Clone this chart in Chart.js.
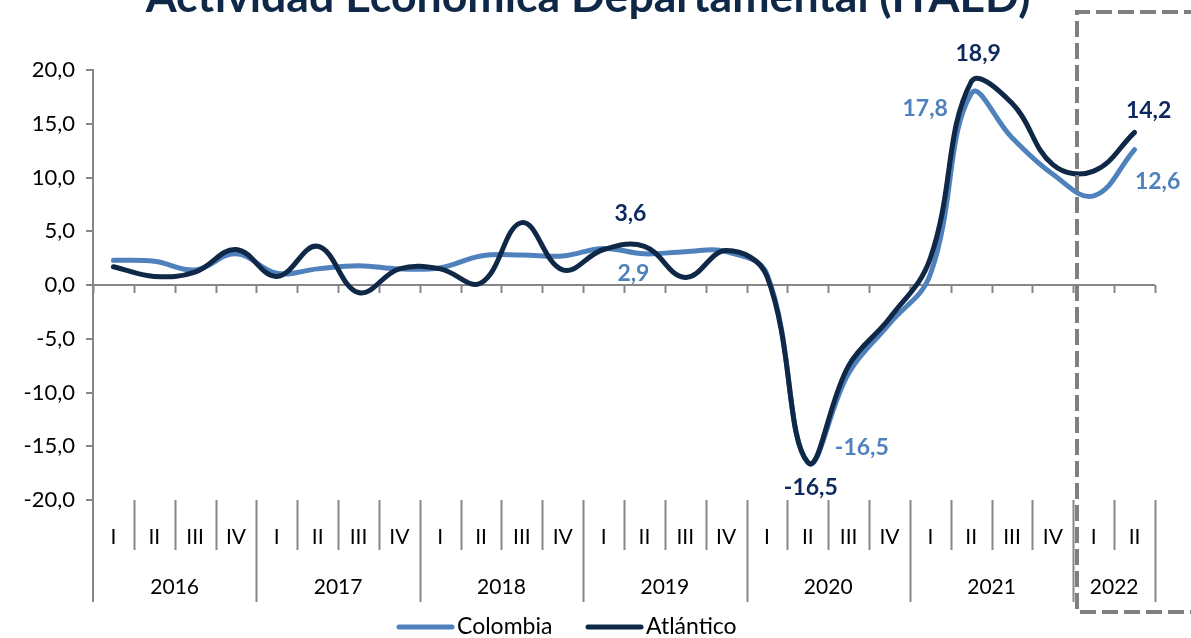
<!DOCTYPE html>
<html>
<head>
<meta charset="utf-8">
<script src="https://cdn.jsdelivr.net/npm/chart.js@4.4.1/dist/chart.umd.min.js"></script>
<style>
  html, body { margin: 0; padding: 0; background: #fff; }
  #wrap { width: 1191px; height: 638px; }
</style>
</head>
<body>
<div id="wrap"><canvas id="itaed" width="1191" height="638"></canvas></div>
<script>
// trimestres y años
const quarters = ['I','II','III','IV','I','II','III','IV','I','II','III','IV','I','II','III','IV',
                  'I','II','III','IV','I','II','III','IV','I','II'];
const years = ['2016','2017','2018','2019','2020','2021','2022'];
const quartersPerYear = [4, 4, 4, 4, 4, 4, 2];

// variación anual (%)
const colombia = [2.3, 2.2, 1.4, 2.9, 1.1, 1.5, 1.8, 1.5, 1.6, 2.7, 2.8, 2.7,
                  3.4, 2.9, 3.1, 3.1, 1.0, -16.5, -8.2, -3.6, 1.0, 17.8, 13.7, 10.3, 8.3, 12.6];
const atlantico = [1.7, 0.8, 1.2, 3.3, 0.8, 3.6, -0.7, 1.5, 1.5, 0.2, 5.8, 1.4,
                   3.3, 3.6, 0.7, 3.2, 0.8, -16.5, -7.5, -3.1, 2.5, 18.9, 16.9, 11.2, 10.6, 14.2];

const yTicks = [-20, -15, -10, -5, 0, 5, 10, 15, 20];

const AZUL = '#4F81BD';
const NAVY = '#0F2847';
const NAVY_TXT = '#0E2960';
const GRIS = '#868686';
const FONT = 'Lato, "Open Sans", sans-serif';

// etiquetas de datos: [índice, dx, dy]
const labelsColombia = [[13, -11, 20], [17, 54, -15], [21, -46, 15], [25, 23, 32]];
const labelsAtlantico = [[13, -14, -33], [17, 3, 25], [21, 7, -28], [25, 14, -22]];

const fmt = v => v.toFixed(1).replace('.', ',');

const decor = {
  id: 'decor',
  beforeDatasetsDraw(chart) {
    const {ctx, scales: {x, y}, chartArea} = chart;
    const y0 = y.getPixelForValue(0);
    ctx.save();
    ctx.strokeStyle = GRIS;
    ctx.lineWidth = 2;
    // eje horizontal en cero
    ctx.beginPath();
    ctx.moveTo(chartArea.left, y0);
    ctx.lineTo(chartArea.right, y0);
    ctx.stroke();
    const half = (x.getPixelForValue(1) - x.getPixelForValue(0)) / 2;
    for (let i = 0; i <= quarters.length; i++) {
      const px = Math.round(x.getPixelForValue(i) - half) + 0.5;
      ctx.beginPath();
      ctx.moveTo(px, y0);
      ctx.lineTo(px, y0 + 8);
      ctx.stroke();
    }
    ctx.restore();
  },
  afterDraw(chart) {
    const {ctx, scales: {x, y}, chartArea} = chart;
    const bottom = chartArea.bottom;
    const half = (x.getPixelForValue(1) - x.getPixelForValue(0)) / 2;
    ctx.save();

    // título (cortado arriba)
    ctx.fillStyle = NAVY;
    ctx.textAlign = 'center';
    ctx.textBaseline = 'alphabetic';
    const title = 'Actividad Económica Departamental (ITAED)';
    ctx.font = 'bold 38px ' + FONT;
    const tsize = 38 * 884 / ctx.measureText(title).width;
    ctx.font = 'bold ' + tsize.toFixed(1) + 'px ' + FONT;
    ctx.fillText(title, 588, 12);

    // separadores y etiquetas del eje x
    ctx.strokeStyle = GRIS;
    ctx.lineWidth = 2;
    ctx.beginPath();
    ctx.moveTo(chartArea.left, bottom);
    ctx.lineTo(chartArea.left, 602);
    ctx.stroke();
    let idx = 0;
    const yearBounds = [0];
    quartersPerYear.forEach(n => { idx += n; yearBounds.push(idx); });
    for (let i = 1; i <= quarters.length; i++) {
      const px = Math.round(x.getPixelForValue(i) - half) + 0.5;
      const isYear = yearBounds.includes(i);
      ctx.beginPath();
      ctx.moveTo(px, bottom);
      ctx.lineTo(px, isYear ? 602 : 550);
      ctx.stroke();
    }
    ctx.fillStyle = '#000';
    ctx.font = '21px ' + FONT;
    ctx.textBaseline = 'middle';
    quarters.forEach((q, i) => ctx.fillText(q, x.getPixelForValue(i), 537));
    years.forEach((yr, k) => {
      const a = x.getPixelForValue(yearBounds[k]) - half;
      const b = x.getPixelForValue(yearBounds[k + 1]) - half;
      ctx.fillText(yr, (a + b) / 2, 587);
    });

    // etiquetas de datos
    ctx.font = 'bold 23px ' + FONT;
    labelsColombia.forEach(([i, dx, dy]) => {
      ctx.fillStyle = AZUL;
      ctx.fillText(fmt(colombia[i]), x.getPixelForValue(i) + dx, y.getPixelForValue(colombia[i]) + dy);
    });
    labelsAtlantico.forEach(([i, dx, dy]) => {
      ctx.fillStyle = NAVY_TXT;
      ctx.fillText(fmt(atlantico[i]), x.getPixelForValue(i) + dx, y.getPixelForValue(atlantico[i]) + dy);
    });

    // leyenda
    ctx.lineCap = 'round';
    ctx.lineWidth = 5;
    ctx.font = '23px ' + FONT;
    ctx.textAlign = 'left';
    [[AZUL, 'Colombia', 399], [NAVY, 'Atlántico', 588]].forEach(([c, t, lx]) => {
      ctx.strokeStyle = c;
      ctx.beginPath();
      ctx.moveTo(lx, 627);
      ctx.lineTo(lx + 53, 627);
      ctx.stroke();
      ctx.fillStyle = '#000';
      ctx.fillText(t, lx + 58, 627);
    });

    // recuadro punteado 2022
    ctx.lineCap = 'butt';
    ctx.strokeStyle = '#7F7F7F';
    ctx.lineWidth = 4;
    ctx.setLineDash([16, 6]);
    ctx.beginPath();
    ctx.moveTo(1200, 12);
    ctx.lineTo(1077, 12);
    ctx.lineTo(1077, 612);
    ctx.lineTo(1200, 612);
    ctx.stroke();
    ctx.restore();
  }
};

new Chart(document.getElementById('itaed'), {
  type: 'line',
  data: {
    labels: quarters,
    datasets: [
      { label: 'Colombia', data: colombia, borderColor: AZUL, borderWidth: 5, order: 2 },
      { label: 'Atlántico', data: atlantico, borderColor: NAVY, borderWidth: 5, order: 1 }
    ]
  },
  options: {
    responsive: false,
    animation: false,
    devicePixelRatio: 1,
    layout: { padding: { top: 70, right: 36, left: 0, bottom: 0 } },
    elements: {
      point: { radius: 0 },
      line: { tension: 0.4, fill: false, borderCapStyle: 'round', borderJoinStyle: 'round' }
    },
    plugins: { legend: { display: false }, tooltip: { enabled: false } },
    scales: {
      x: {
        type: 'category',
        offset: true,
        grid: { display: false },
        border: { display: false },
        ticks: { display: false },
        afterFit: s => { s.height = 138; }
      },
      y: {
        min: -20,
        max: 20,
        afterBuildTicks: s => { s.ticks = yTicks.map(v => ({ value: v })); },
        grid: { display: true, drawOnChartArea: false, drawTicks: true, tickLength: 7, color: GRIS, lineWidth: 2 },
        border: { display: true, color: GRIS, width: 2 },
        ticks: { color: '#000', font: { family: FONT, size: 22 }, padding: 11, callback: v => fmt(v) },
        afterFit: s => { s.width = 93; }
      }
    }
  },
  plugins: [decor]
});
</script>
</body>
</html>
